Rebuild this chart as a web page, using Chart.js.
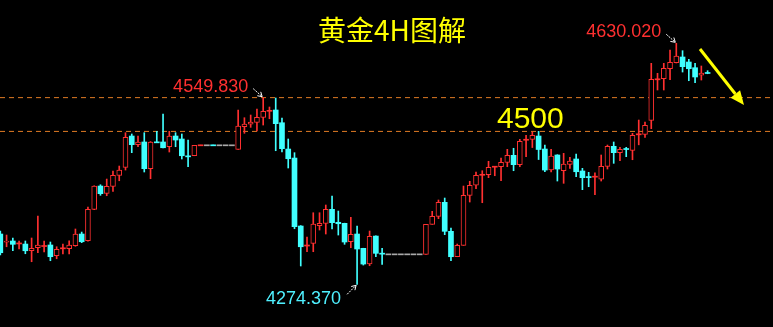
<!DOCTYPE html>
<html>
<head>
<meta charset="utf-8">
<title>黄金4H图解</title>
<script src="https://cdn.jsdelivr.net/npm/chart.js"></script>
<style>
  html, body { margin: 0; padding: 0; background: #000; }
  #wrap { position: relative; width: 773px; height: 327px; }
</style>
</head>
<body>
<div id="wrap"><canvas id="gold-chart" width="773" height="327"></canvas></div>
<script>
/* ==========================
   Data (XAUUSD 4H candles)
========================== */
const opens = [
  4348.6, 4336.5, 4338.3, 4334.1, 4333.8, 4323.9, 4328.4, 4330.3, 4332.4, 4316.6,
  4326.9, 4326.9, 4331.3, 4348.6, 4338.7, 4385.0, 4419.4, 4408.6, 4419.0, 4435.2,
  4447.0, 4493.2, 4480.4, 4484.4, 4445.0, 4484.0, 4484.4, 4477.4, 4493.2, 4488.8,
  4463.4, 4464.1, 4479.3, 4479.5, 4479.7, 4479.5, 4479.5, 4479.5, 4473.6, 4506.9,
  4510.5, 4513.4, 4520.8, 4529.9, 4531.6, 4512.8, 4474.0, 4460.7, 4360.4, 4331.0,
  4334.9, 4360.8, 4364.4, 4385.0, 4365.9, 4364.4, 4337.2, 4348.6, 4327.5, 4304.3,
  4345.6, 4319.8, 4318.6, 4318.6, 4318.6, 4318.6, 4318.6, 4318.6, 4318.6, 4362.9,
  4374.7, 4395.4, 4352.6, 4315.1, 4331.9, 4405.7, 4420.5, 4435.6, 4436.1, 4447.5,
  4447.9, 4454.4, 4464.7, 4450.9, 4487.3, 4488.3, 4493.2, 4474.0, 4443.0, 4465.2,
  4442.0, 4451.4, 4459.3, 4441.6, 4432.8, 4432.8, 4429.7, 4448.5, 4478.0, 4468.6,
  4474.2, 4472.1, 4495.3, 4495.7, 4516.4, 4576.5, 4577.8, 4592.5, 4601.4, 4609.8,
  4602.4, 4594.0, 4582.8, 4586.4
];
const highs = [
  4353.0, 4347.1, 4342.7, 4338.3, 4338.3, 4342.7, 4375.2, 4338.3, 4336.8, 4329.8,
  4333.8, 4338.7, 4356.0, 4351.5, 4388.4, 4419.8, 4421.3, 4429.7, 4441.6, 4448.9,
  4498.1, 4496.2, 4493.2, 4498.1, 4485.0, 4500.1, 4525.7, 4500.1, 4498.1, 4496.2,
  4487.3, 4479.5, 4479.7, 4479.5, 4479.7, 4479.5, 4479.5, 4479.5, 4531.6, 4520.2,
  4524.2, 4533.0, 4549.83, 4536.0, 4549.3, 4519.8, 4488.8, 4468.6, 4361.0, 4344.2,
  4380.0, 4380.0, 4391.4, 4404.7, 4382.5, 4364.6, 4373.2, 4360.4, 4327.6, 4353.0,
  4345.8, 4327.5, 4318.6, 4318.6, 4318.6, 4318.6, 4318.6, 4318.6, 4362.9, 4382.1,
  4398.8, 4401.7, 4357.4, 4333.8, 4419.4, 4426.4, 4440.1, 4442.0, 4455.9, 4448.3,
  4460.7, 4473.6, 4475.1, 4488.3, 4494.4, 4499.1, 4500.1, 4479.9, 4473.6, 4465.6,
  4467.7, 4461.8, 4466.6, 4445.5, 4439.6, 4439.0, 4465.2, 4479.9, 4484.4, 4476.5,
  4476.5, 4497.2, 4516.8, 4513.9, 4600.5, 4585.7, 4600.5, 4620.1, 4630.02, 4619.1,
  4606.4, 4600.5, 4596.5, 4589.6
];
const lows = [
  4317.6, 4329.8, 4323.9, 4326.5, 4319.5, 4307.7, 4321.0, 4322.0, 4309.2, 4312.1,
  4319.1, 4319.1, 4330.5, 4335.8, 4338.0, 4384.5, 4405.7, 4405.1, 4411.6, 4427.2,
  4443.0, 4468.6, 4477.4, 4440.1, 4430.2, 4483.5, 4475.5, 4469.6, 4477.4, 4459.3,
  4447.9, 4464.1, 4479.3, 4479.5, 4479.3, 4479.5, 4479.5, 4479.5, 4473.6, 4497.2,
  4506.0, 4500.6, 4509.4, 4518.7, 4471.5, 4469.6, 4446.0, 4356.4, 4301.4, 4322.5,
  4322.5, 4354.5, 4348.6, 4356.0, 4347.1, 4333.4, 4328.4, 4274.37, 4302.8, 4301.8,
  4315.1, 4303.9, 4318.6, 4318.6, 4318.6, 4318.6, 4318.6, 4318.6, 4318.6, 4362.9,
  4371.2, 4347.6, 4309.2, 4315.1, 4331.9, 4395.8, 4415.4, 4394.8, 4431.7, 4434.6,
  4427.2, 4447.9, 4442.0, 4447.9, 4462.7, 4476.2, 4458.5, 4440.5, 4440.1, 4426.8,
  4423.4, 4445.5, 4433.1, 4414.0, 4418.4, 4406.6, 4426.8, 4444.5, 4452.9, 4456.8,
  4462.7, 4458.2, 4480.2, 4491.0, 4504.0, 4561.1, 4561.1, 4576.3, 4601.0, 4587.6,
  4574.8, 4571.9, 4575.8, 4585.1
];
const closes = [
  4321.0, 4338.0, 4333.4, 4335.3, 4323.9, 4327.5, 4332.4, 4331.5, 4315.1, 4326.0,
  4328.1, 4332.4, 4348.6, 4337.2, 4385.0, 4419.4, 4408.1, 4419.0, 4435.2, 4443.0,
  4491.3, 4480.4, 4484.4, 4445.0, 4484.4, 4483.8, 4475.9, 4493.2, 4487.3, 4464.1,
  4463.0, 4479.5, 4479.7, 4479.5, 4479.3, 4479.5, 4479.5, 4479.5, 4508.0, 4510.9,
  4513.9, 4520.8, 4529.7, 4530.9, 4511.4, 4474.5, 4459.7, 4359.4, 4329.8, 4332.2,
  4363.3, 4364.4, 4385.0, 4365.3, 4363.8, 4336.8, 4348.1, 4326.5, 4304.3, 4345.2,
  4320.1, 4319.4, 4318.6, 4318.6, 4318.6, 4318.6, 4318.6, 4318.6, 4362.9, 4374.7,
  4395.4, 4352.6, 4315.1, 4331.9, 4405.7, 4420.5, 4435.2, 4436.4, 4447.0, 4448.3,
  4454.4, 4464.7, 4450.9, 4485.4, 4488.1, 4494.4, 4473.3, 4443.0, 4463.7, 4444.5,
  4451.9, 4456.3, 4440.5, 4431.7, 4432.4, 4433.6, 4448.5, 4478.0, 4468.6, 4473.6,
  4473.8, 4494.2, 4496.1, 4509.0, 4576.9, 4577.3, 4593.1, 4602.0, 4611.3, 4595.5,
  4592.5, 4580.3, 4586.2, 4586.0
];

// horizontal reference levels (dashed)
const levels = [4549.83, 4500];
// candles whose high / low get a price tag
const highMarks = [42, 108];
const lowMarks = [57];

/* ==========================
   Styles
========================== */
const UP = '#ff3030';     // hollow red candles
const DOWN = '#40ffff';   // filled cyan candles
const FLAT = '#a8a8a8';   // no-move bars
const LEVEL = '#e07b24';  // dashed orange lines
const YELLOW = '#ffff00';

function candleColor(i) {
  if (closes[i] > opens[i]) return UP;
  if (closes[i] < opens[i]) return DOWN;
  return FLAT;
}
function isDoji(i) {
  return Math.abs(closes[i] - opens[i]) < 1.3;
}

const idx = opens.map((_, i) => i);

// body of each candle as floating bar; dojis become a thin 1px line
const bodyData = idx.map(i => {
  if (isDoji(i)) {
    const m = (opens[i] + closes[i]) / 2;
    return { x: i, y: [m - 0.75, m + 0.75] };
  }
  return { x: i, y: [Math.min(opens[i], closes[i]), Math.max(opens[i], closes[i])] };
});
const wickData = idx.map(i => ({ x: i, y: [lows[i], highs[i]] }));

const X_MIN = -0.05, X_MAX = 123.45;

/* ==========================
   Annotation plugin (texts + arrows)
========================== */
function arrow(ctx, x0, y0, x1, y1, color) {
  ctx.save();
  ctx.strokeStyle = color;
  ctx.lineWidth = 1;
  ctx.setLineDash([2, 1]);
  ctx.beginPath();
  ctx.moveTo(x0, y0);
  ctx.lineTo(x1, y1);
  ctx.stroke();
  ctx.setLineDash([]);
  const a = Math.atan2(y1 - y0, x1 - x0);
  ctx.beginPath();
  ctx.moveTo(x1 - 5 * Math.cos(a - 0.55), y1 - 5 * Math.sin(a - 0.55));
  ctx.lineTo(x1, y1);
  ctx.lineTo(x1 - 5 * Math.cos(a + 0.55), y1 - 5 * Math.sin(a + 0.55));
  ctx.stroke();
  ctx.restore();
}

const annotations = {
  id: 'annotations',
  afterDatasetsDraw(chart) {
    const { ctx, scales: { x, y } } = chart;
    ctx.save();

    // title
    ctx.fillStyle = YELLOW;
    ctx.font = '28px "Noto Sans CJK SC"';
    ctx.textAlign = 'center';
    ctx.textBaseline = 'middle';
    ctx.fillText('黄金4H图解', 392, 30);

    // 4500 tag above the lower level line
    ctx.font = '30px "Liberation Sans"';
    ctx.textAlign = 'left';
    ctx.textBaseline = 'alphabetic';
    ctx.fillText('4500', 497, y.getPixelForValue(4500) - 3);

    // price tags
    ctx.font = '18px "Liberation Sans"';
    ctx.textAlign = 'right';
    highMarks.forEach(i => {
      const px = x.getPixelForValue(i);
      const py = y.getPixelForValue(highs[i]);
      ctx.fillStyle = UP;
      ctx.fillText(highs[i].toFixed(3), px - 15, py - 6);
      arrow(ctx, px - 10, py - 9, px - 1, py - 1, '#ffffff');
    });
    lowMarks.forEach(i => {
      const px = x.getPixelForValue(i);
      const py = y.getPixelForValue(lows[i]);
      ctx.fillStyle = '#4ff0ff';
      ctx.fillText(lows[i].toFixed(3), px - 16, py + 20);
      arrow(ctx, px - 10, py + 10, px - 1, py + 1, '#ffffff');
    });

    // big yellow arrow pointing down
    const x0 = 700, y0 = 49, x1 = 744, y1 = 105;
    const a = Math.atan2(y1 - y0, x1 - x0);
    const bx = x1 - 14 * Math.cos(a), by = y1 - 14 * Math.sin(a);
    ctx.strokeStyle = YELLOW;
    ctx.fillStyle = YELLOW;
    ctx.lineWidth = 3;
    ctx.beginPath();
    ctx.moveTo(x0, y0);
    ctx.lineTo(bx, by);
    ctx.stroke();
    ctx.beginPath();
    ctx.moveTo(x1, y1);
    ctx.lineTo(bx + 6 * Math.sin(a), by - 6 * Math.cos(a));
    ctx.lineTo(bx - 6 * Math.sin(a), by + 6 * Math.cos(a));
    ctx.closePath();
    ctx.fill();

    ctx.restore();
  }
};

/* ==========================
   Chart
========================== */
const ctx = document.getElementById('gold-chart');
const goldChart = new Chart(ctx.getContext('2d'), {
  type: 'bar',
  data: {
    datasets: [
      ...levels.map(v => ({
        type: 'line',
        data: [{ x: X_MIN, y: v }, { x: X_MAX, y: v }],
        borderColor: LEVEL,
        borderWidth: 1,
        borderDash: [5, 4],
        pointRadius: 0,
        order: 3,
      })),
      {
        label: 'wick',
        data: wickData,
        backgroundColor: idx.map(candleColor),
        barThickness: 1,
        grouped: false,
        order: 2,
      },
      {
        label: 'body',
        data: bodyData,
        backgroundColor: idx.map(i => isDoji(i) ? candleColor(i) : (closes[i] > opens[i] ? '#000000' : DOWN)),
        borderColor: idx.map(candleColor),
        borderWidth: idx.map(i => (!isDoji(i) && closes[i] > opens[i]) ? 1 : 0),
        borderSkipped: false,
        barThickness: 5,
        grouped: false,
        order: 1,
      },
    ],
  },
  options: {
    responsive: false,
    animation: false,
    layout: { padding: 0 },
    plugins: {
      legend: { display: false },
      tooltip: { enabled: false },
    },
    scales: {
      x: { type: 'linear', offset: false, min: X_MIN, max: X_MAX, display: false },
      y: { min: 4211.4, max: 4693.9, display: false },
    },
  },
  plugins: [annotations],
});
</script>
</body>
</html>
